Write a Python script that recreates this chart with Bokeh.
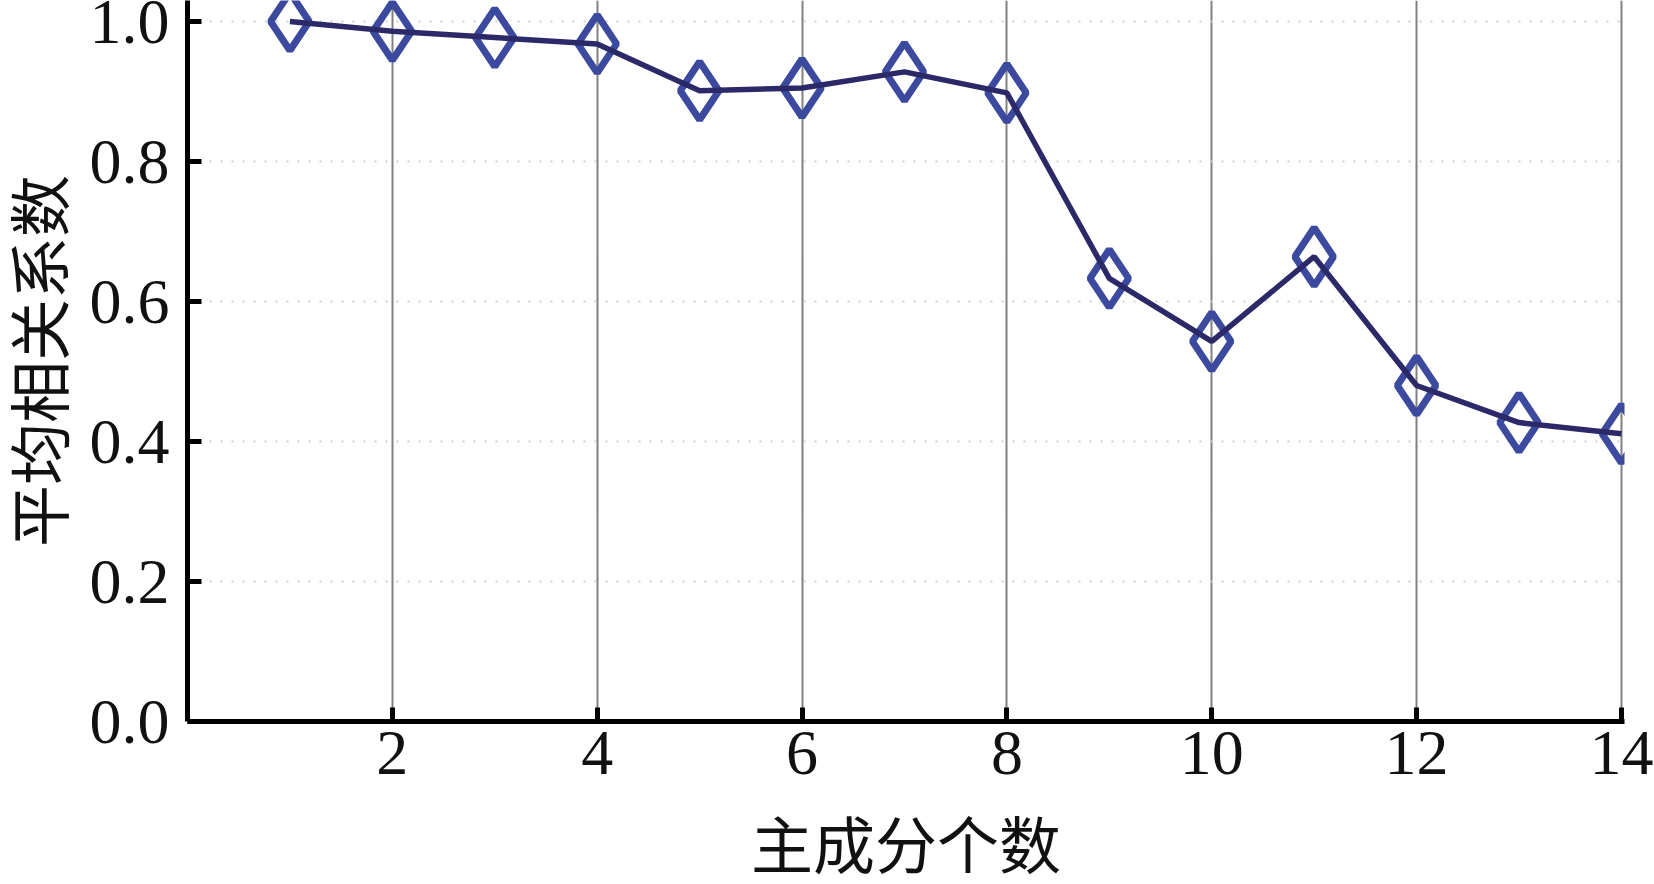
from bokeh.plotting import figure
from bokeh.models import Range1d, FixedTicker, NumeralTickFormatter, ColumnDataSource
from bokeh.embed import file_html
from bokeh.resources import INLINE

# data
components = [1, 2, 3, 4, 5, 6, 7, 8, 9, 10, 11, 12, 13, 14]
mean_corr = [1.0, 0.986, 0.977, 0.968, 0.901, 0.905, 0.928, 0.898, 0.633, 0.543, 0.664, 0.480, 0.427, 0.411]
x_ticks = [2, 4, 6, 8, 10, 12, 14]
y_ticks = [0.0, 0.2, 0.4, 0.6, 0.8, 1.0]
x_label = "主成分个数"
y_label = "平均相关系数"

src = ColumnDataSource(dict(x=components, y=mean_corr))

p = figure(width=1654, height=884, x_range=Range1d(0, 14.03), y_range=Range1d(0, 1.03),
           output_backend="svg", toolbar_location=None,
           min_border_left=187, min_border_right=30, min_border_top=0, min_border_bottom=163)
p.outline_line_color = None

serif = "Liberation Serif"
label_font = "Liberation Serif, Noto Sans CJK SC"

for ax in (p.xaxis[0], p.yaxis[0]):
    ax.axis_line_width = 5
    ax.axis_line_color = "black"
    ax.major_tick_in = 14
    ax.major_tick_out = 0
    ax.major_tick_line_width = 5
    ax.major_tick_line_color = "black"
    ax.minor_tick_line_color = None
    ax.major_label_text_font = serif
    ax.major_label_text_font_size = "64px"
    ax.major_label_text_color = "#111111"
    ax.axis_label_text_font = label_font
    ax.axis_label_text_font_size = "62px"
    ax.axis_label_text_font_style = "normal"
    ax.axis_label_text_color = "#111111"

p.xaxis.ticker = FixedTicker(ticks=x_ticks)
p.yaxis.ticker = FixedTicker(ticks=y_ticks)
p.yaxis.formatter = NumeralTickFormatter(format="0.0")
p.xaxis.major_label_standoff = 10
p.yaxis.major_label_standoff = 18
p.xaxis.axis_label = x_label
p.yaxis.axis_label = y_label
p.xaxis.axis_label_standoff = 37
p.yaxis.axis_label_standoff = 10

p.xgrid.ticker = FixedTicker(ticks=x_ticks)
p.xgrid.grid_line_color = "#808080"
p.xgrid.grid_line_width = 2
p.ygrid.ticker = FixedTicker(ticks=y_ticks)
p.ygrid.grid_line_color = "#d0d0d0"
p.ygrid.grid_line_width = 2
p.ygrid.grid_line_dash = "2 9"

p.scatter("x", "y", source=src, marker="diamond", size=58, line_color="#3b4a9e",
          line_width=7, fill_alpha=0)
p.line("x", "y", source=src, line_color="#2b2968", line_width=5.5)

open("out.html", "w").write(file_html(p, INLINE))
